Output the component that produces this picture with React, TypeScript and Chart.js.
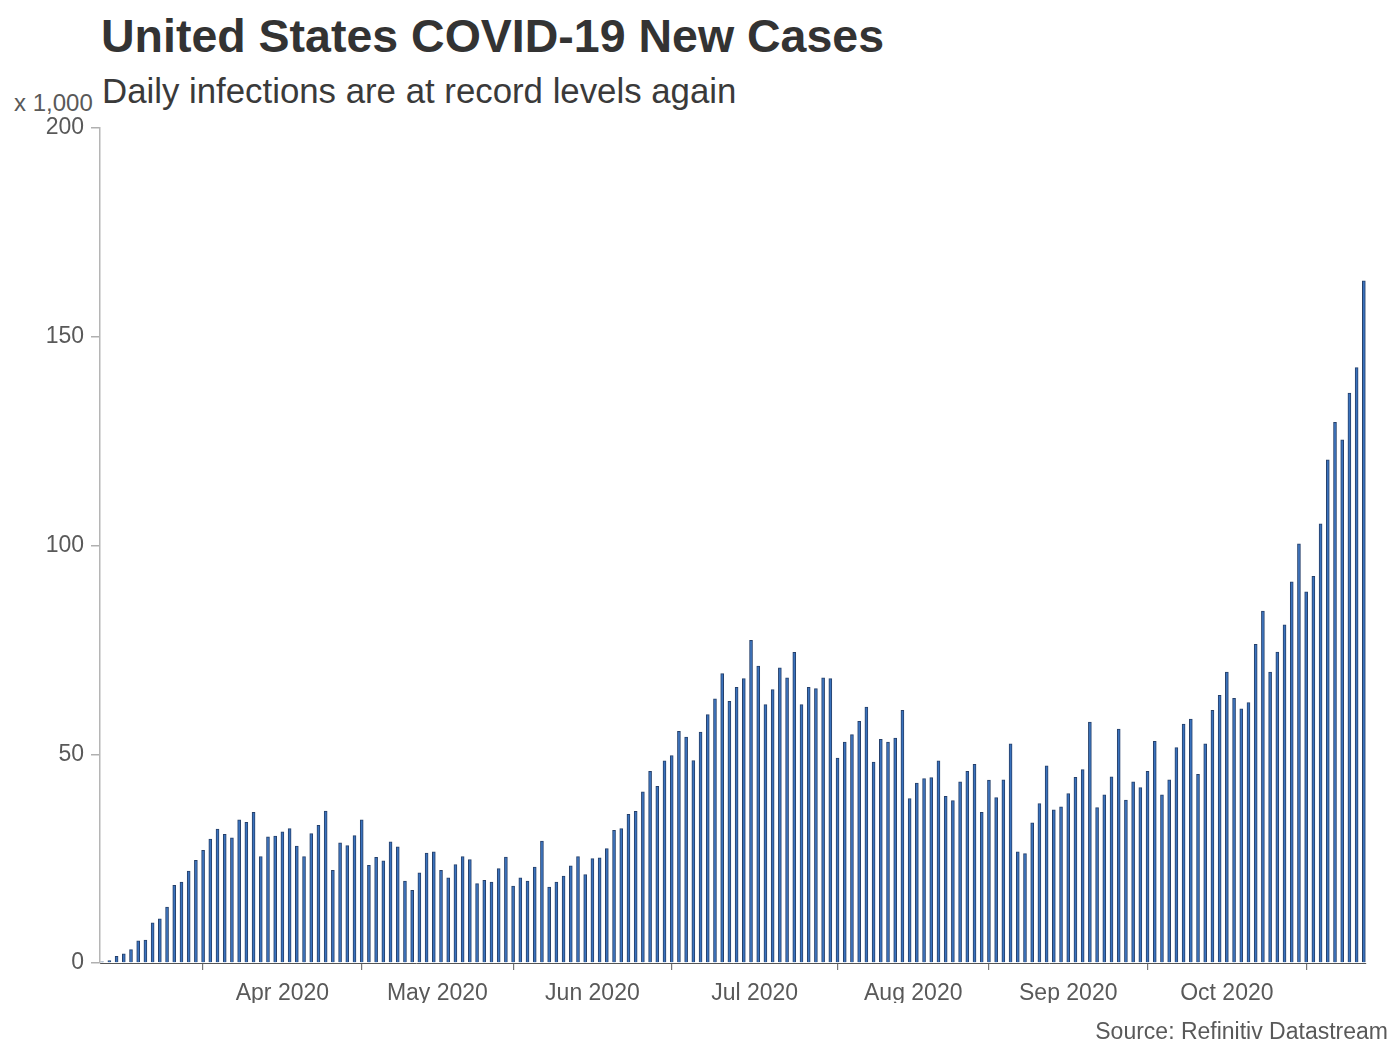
import React, { useEffect, useRef } from "react";
import { Chart, registerables } from "chart.js";

Chart.register(...registerables);

// Reporting months and the weekday dates with a reading in each
const MONTHS = ["Mar", "Apr", "May", "Jun", "Jul", "Aug", "Sep", "Oct", "Nov"];

const MAR_DAYS = [12, 13, 16, 17, 18, 19, 20, 23, 24, 25, 26, 27, 30, 31];
const APR_DAYS = [1, 2, 3, 6, 7, 8, 9, 10, 13, 14, 15, 16, 17, 20, 21, 22, 23, 24, 27, 28, 29, 30];
const MAY_DAYS = [1, 4, 5, 6, 7, 8, 11, 12, 13, 14, 15, 18, 19, 20, 21, 22, 25, 26, 27, 28, 29];
const JUN_DAYS = [1, 2, 3, 4, 5, 8, 9, 10, 11, 12, 15, 16, 17, 18, 19, 22, 23, 24, 25, 26, 29, 30];
const JUL_DAYS = [1, 2, 3, 6, 7, 8, 9, 10, 13, 14, 15, 16, 17, 20, 21, 22, 23, 24, 27, 28, 29, 30, 31];
const AUG_DAYS = [3, 4, 5, 6, 7, 10, 11, 12, 13, 14, 17, 18, 19, 20, 21, 24, 25, 26, 27, 28, 31];
const SEP_DAYS = [1, 2, 3, 4, 7, 8, 9, 10, 11, 14, 15, 16, 17, 18, 21, 22, 23, 24, 25, 28, 29, 30];
const OCT_DAYS = [1, 2, 5, 6, 7, 8, 9, 12, 13, 14, 15, 16, 19, 20, 21, 22, 23, 26, 27, 28, 29, 30];
const NOV_DAYS = [2, 3, 4, 5, 6, 9, 10, 11, 12];

// New cases per day, in thousands
const MAR_CASES = [0.3, 0.6, 1.6, 2.2, 3.2, 5.3, 5.5, 9.6, 10.6, 13.4, 18.6, 19.4, 22.0, 24.6];
const APR_CASES = [27.0, 29.7, 32.1, 30.8, 30.0, 34.3, 33.7, 36.1, 25.5, 30.2, 30.4, 31.4, 32.2, 28.0, 25.5, 31.0, 33.0, 36.4, 22.2, 28.8, 28.1, 30.5];
const MAY_CASES = [34.3, 23.4, 25.3, 24.5, 29.0, 27.8, 19.6, 17.4, 21.6, 26.3, 26.6, 22.2, 20.4, 23.6, 25.5, 24.8, 19.0, 19.8, 19.4, 22.6, 25.4];
const JUN_CASES = [18.4, 20.4, 19.6, 23.0, 29.2, 18.2, 19.4, 20.8, 23.3, 25.5, 21.2, 25.0, 25.2, 27.4, 31.8, 32.2, 35.6, 36.3, 41.0, 45.9, 42.3, 48.4];
const JUL_CASES = [49.7, 55.5, 54.1, 48.5, 55.3, 59.5, 63.3, 69.3, 62.7, 66.0, 68.1, 77.3, 71.1, 61.9, 65.5, 70.7, 68.3, 74.4, 61.9, 66.0, 65.7, 68.3, 68.1];
const AUG_CASES = [49.1, 52.9, 54.7, 57.9, 61.3, 48.1, 53.6, 52.9, 53.9, 60.5, 39.4, 43.1, 44.2, 44.4, 48.4, 39.9, 38.9, 43.4, 45.9, 47.6, 36.1];
const SEP_CASES = [43.8, 39.6, 43.9, 52.5, 26.6, 26.2, 33.6, 38.2, 47.2, 36.7, 37.4, 40.6, 44.5, 46.3, 57.7, 37.2, 40.3, 44.6, 56.0, 39.0, 43.4, 42.0];
const OCT_CASES = [45.9, 53.1, 40.3, 43.9, 51.6, 57.2, 58.4, 45.2, 52.5, 60.5, 64.1, 69.7, 63.4, 60.9, 62.4, 76.3, 84.3, 69.7, 74.5, 81.0, 91.3, 100.4];
const NOV_CASES = [88.9, 92.6, 105.2, 120.5, 129.5, 125.3, 136.5, 142.6, 163.4];

const Y_TICKS = [0, 50, 100, 150, 200];

const MONTH_DAYS = [MAR_DAYS, APR_DAYS, MAY_DAYS, JUN_DAYS, JUL_DAYS, AUG_DAYS, SEP_DAYS, OCT_DAYS, NOV_DAYS];
const MONTH_CASES = [MAR_CASES, APR_CASES, MAY_CASES, JUN_CASES, JUL_CASES, AUG_CASES, SEP_CASES, OCT_CASES, NOV_CASES];

const DATES = MONTH_DAYS.flatMap((days, m) => days.map((d) => `${MONTHS[m]} ${d}, 2020`));
const CASES = MONTH_CASES.flat();

// index of the first reporting day of each month
const MONTH_START: number[] = [];
MONTH_DAYS.reduce((acc, days) => {
  MONTH_START.push(acc);
  return acc + days.length;
}, 0);

// tick marks at the first day of every full month shown (Apr .. Nov)
const BOUNDARY_TICKS = MONTH_START.slice(1);
// month names centred between two boundaries (Apr .. Oct)
const LABEL_TICKS = new Map<number, string>();
for (let m = 1; m < MONTHS.length - 1; m++) {
  LABEL_TICKS.set((MONTH_START[m] + MONTH_START[m + 1]) / 2, `${MONTHS[m]} 2020`);
}

const FONT = "'Liberation Sans', Arial, sans-serif";
const LABEL_GREY = "#595959";

function CasesChart() {
  const ref = useRef<HTMLCanvasElement | null>(null);

  useEffect(() => {
    if (!ref.current) return;
    const chart = new Chart(ref.current, {
      type: "bar",
      data: {
        labels: DATES,
        datasets: [
          {
            label: "New cases (x 1,000)",
            data: CASES.map((v, i) => ({ x: i, y: v })),
            backgroundColor: "#3a72bd",
            borderColor: "#26406a",
            borderWidth: 1,
            borderSkipped: "bottom",
            barThickness: 3,
          },
        ],
      },
      options: {
        animation: false,
        responsive: false,
        devicePixelRatio: 1,
        layout: { padding: { left: 0, right: 25, top: 28, bottom: 38 } },
        plugins: {
          legend: { display: false },
          tooltip: { enabled: false },
          title: { display: false },
        },
        scales: {
          x: {
            type: "linear",
            offset: false,
            min: -0.3,
            max: CASES.length - 1 + 0.3,
            afterBuildTicks: (scale: any) => {
              const values = [...BOUNDARY_TICKS, ...Array.from(LABEL_TICKS.keys())].sort((a, b) => a - b);
              scale.ticks = values.map((value) => ({ value }));
            },
            afterFit: (scale: any) => {
              scale.height = 40;
            },
            grid: {
              offset: false,
              drawOnChartArea: false,
              drawTicks: true,
              tickLength: 7,
              lineWidth: 1.2,
              color: (ctx: any) =>
                ctx.tick && BOUNDARY_TICKS.includes(ctx.tick.value) ? "#777777" : "rgba(0,0,0,0)",
            },
            border: { display: true, color: "#555555", width: 1 },
            ticks: {
              autoSkip: false,
              maxRotation: 0,
              minRotation: 0,
              padding: 10,
              color: LABEL_GREY,
              font: { family: FONT, size: 23 },
              callback: (value: any) => LABEL_TICKS.get(Number(value)) ?? "",
            },
          },
          y: {
            min: 0,
            max: 200,
            afterBuildTicks: (scale: any) => {
              scale.ticks = Y_TICKS.map((value) => ({ value }));
            },
            afterFit: (scale: any) => {
              scale.width = 100;
            },
            grid: {
              drawOnChartArea: false,
              drawTicks: true,
              tickLength: 9,
              lineWidth: 1.5,
              color: "#b0b0b0",
            },
            border: { display: true, color: "#b5b5b5", width: 1.5 },
            ticks: {
              padding: 7,
              color: LABEL_GREY,
              font: { family: FONT, size: 23 },
            },
          },
        },
      },
    });
    return () => chart.destroy();
  }, []);

  return (
    <canvas
      ref={ref}
      width={1391}
      height={941}
      style={{ position: "absolute", left: 0, top: 100, width: 1391, height: 941, display: "block" }}
    />
  );
}

export default function App() {
  return (
    <div
      style={{
        position: "absolute",
        left: 0,
        top: 0,
        width: 1391,
        height: 1041,
        overflow: "hidden",
        background: "#ffffff",
        fontFamily: FONT,
      }}
    >
      <div
        style={{
          position: "absolute",
          left: 101,
          top: 13,
          fontSize: 46.5,
          lineHeight: "46px",
          fontWeight: 700,
          color: "#333333",
          whiteSpace: "nowrap",
        }}
      >
        United States COVID-19 New Cases
      </div>
      <div
        style={{
          position: "absolute",
          left: 102,
          top: 73,
          fontSize: 34.8,
          lineHeight: "35px",
          color: "#3a3a3a",
          whiteSpace: "nowrap",
        }}
      >
        Daily infections are at record levels again
      </div>
      <div
        style={{
          position: "absolute",
          left: 14,
          top: 91,
          fontSize: 24,
          lineHeight: "23px",
          color: LABEL_GREY,
          whiteSpace: "nowrap",
        }}
      >
        x 1,000
      </div>
      <CasesChart />
      <div
        style={{
          position: "absolute",
          right: 3,
          top: 1020,
          fontSize: 23,
          lineHeight: "23px",
          color: LABEL_GREY,
          whiteSpace: "nowrap",
        }}
      >
        Source: Refinitiv Datastream
      </div>
    </div>
  );
}
